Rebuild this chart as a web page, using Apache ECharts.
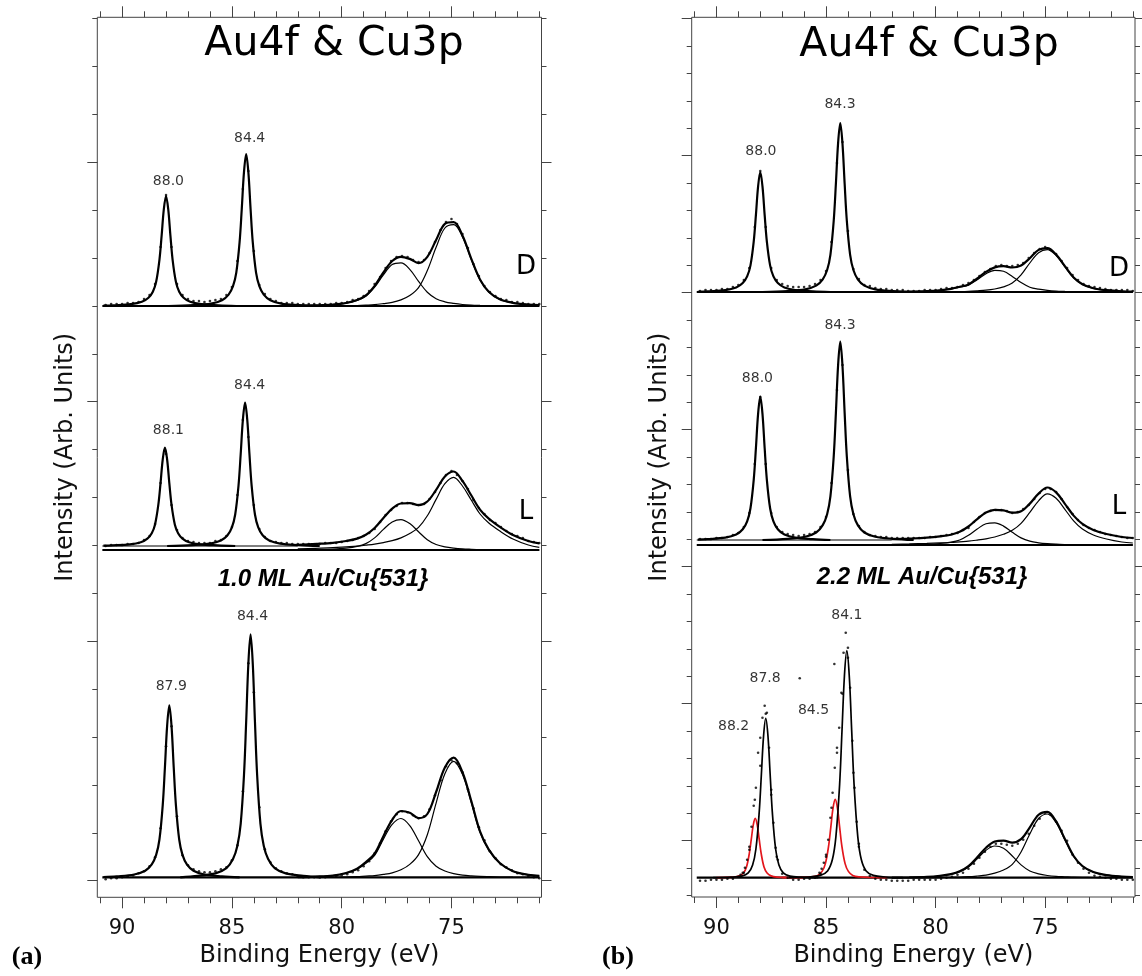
<!DOCTYPE html>
<html><head><meta charset="utf-8">
<script src="https://cdn.jsdelivr.net/npm/echarts@6/dist/echarts.min.js"></script>
<style>html,body{margin:0;padding:0;background:#fff}#c{width:1142px;height:976px}</style>
</head><body><div id="c"></div>
<script>
// ===== DATA (binding energy in eV, intensity in arbitrary units) =====
// Cu 3p fit-component energy grid
const CU_X = [82.0,81.2,80.4,79.8,79.3,78.9,78.5,78.1,77.7,77.3,76.9,76.5,76.1,75.7,75.3,74.9,74.5,74.1,73.7,73.3,72.8,72.2,71.5,71.0];
// measured-point energy grid: 90.75 eV down to 71.0 eV in 0.25 eV steps
const DOT_START = 90.75, DOT_STEP = 0.25;
const X_MINOR = [71,72,73,74,75,76,77,78,79,80,81,82,83,84,85,86,87,88,89,90,91];
const X_MAJOR = [75,80,85,90];
const X_RANGE = [70.9, 91.13];

// spectrum baselines (stacking offsets) and constant background
const OFF_A = [591.3, 347.3, 20];   // D, L, 1.0 ML
const BG_A  = [0, 4, 0];
const OFF_B = [605, 352, 19.3];     // D, L, 2.2 ML
const BG_B  = [0, 5, 0];

// ---- panel (a) top: D ----
const aD_au1 = [[90.85,0.3],[90.4,0.7],[89.6,1.8],[89.1,4.2],[88.8,8.3],[88.6,14.3],[88.45,24.2],[88.3,46.2],[88.2,70.4],[88.1,96.8],[88.0,110],[87.9,96.8],[87.8,70.4],[87.7,46.2],[87.55,24.2],[87.4,14.3],[87.2,8.3],[86.9,4.2],[86.4,1.8],[85.6,0.7],[84.8,0]];
const aD_au2 = [[87.9,0],[86.75,0.9],[85.95,2.4],[85.45,5.8],[85.15,11.4],[84.95,19.8],[84.8,33.4],[84.65,63.8],[84.55,97.3],[84.45,133.8],[84.35,152],[84.25,133.8],[84.15,97.3],[84.05,63.8],[83.9,33.4],[83.75,19.8],[83.55,11.4],[83.25,5.8],[82.75,2.4],[81.95,0.9],[81.0,0]];
const aD_cu1 = [0.2,0.6,1.4,2.8,5.5,9.7,18.8,31.1,41.4,43.1,36.7,24.6,13.8,7.3,4.2,2.6,1.5,0.9,0.6,0.4,0.2,0,0,0];
const aD_cu2 = [0,0,0,0.2,0.5,0.9,1.4,2.4,3.6,6.1,10.4,18.3,35.4,58.7,78,81.3,69.1,46.5,26,13.9,6.6,3.2,1.4,0.8];
const aD_pts = [1,2,2,2,3,3,4,7,11,22,59,111,59,22,11,7,5,5,4,5,6,7,11,19,45,117,135,55,21,12,7,5,3,3,3,2,2,2,2,2,2,2,3,3,4,6,7,10,15,22,29,38,45,49,50,49,46,44,46,53,64,76,84,87,82,72,58,42,30,20,14,10,7,6,4,4,3,2,2,2];

// ---- panel (a) middle: L ----
const aL_au1 = [[90.85,4.3],[90.45,4.6],[89.65,5.6],[89.15,7.7],[88.85,11.4],[88.65,16.8],[88.5,25.6],[88.35,45.3],[88.25,66.9],[88.15,90.5],[88.05,102.3],[87.95,90.5],[87.85,66.9],[87.75,45.3],[87.6,25.6],[87.45,16.8],[87.25,11.4],[86.95,7.7],[86.45,5.6],[85.65,4.6],[84.85,4]];
const aL_au2 = [[87.95,4],[86.8,4.9],[86.0,6.3],[85.5,9.4],[85.2,14.7],[85.0,22.6],[84.85,35.5],[84.7,64.2],[84.6,95.7],[84.5,130.1],[84.4,147.3],[84.3,130.1],[84.2,95.7],[84.1,64.2],[83.95,35.5],[83.8,22.6],[83.6,14.7],[83.3,9.4],[82.8,6.3],[82.0,4.9],[81.0,4]];
const aL_cu1 = [0.1,0.4,0.9,1.9,3.6,6.4,12.1,20.6,28,30.4,26.4,18.3,10.3,5.5,3.2,1.9,1.1,0.7,0.4,0.3,0.1,0,0,0];
const aL_cu2 = [1.1,1.7,2.3,3.1,3.8,4.8,5.9,7.4,9.3,12.1,16.4,22.6,34.2,50.6,66.3,72.6,64,50,36,27,19,11,5,2.7];
const aL_pts = [4,5,5,5,6,6,7,10,14,26,67,96,45,20,12,9,8,7,7,7,9,10,14,23,55,130,113,45,21,13,9,8,7,7,6,6,6,6,6,6,7,7,7,8,9,10,12,14,17,21,28,35,40,44,47,47,46,45,46,51,58,67,75,79,75,69,61,50,42,36,30,27,23,19,16,14,12,9,8,7];

// ---- panel (a) bottom: 1.0 ML ----
const aB_au1 = [[90.85,0.3],[90.25,1.0],[89.45,2.8],[88.95,6.5],[88.65,12.9],[88.45,22.4],[88.3,37.8],[88.15,72.2],[88.05,110.1],[87.95,151.4],[87.85,172],[87.75,151.4],[87.65,110.1],[87.55,72.2],[87.4,37.8],[87.25,22.4],[87.05,12.9],[86.75,6.5],[86.25,2.8],[85.45,1.0],[84.65,0]];
const aB_au2 = [[87.35,0],[86.55,1.5],[85.75,3.9],[85.25,9.2],[84.95,18.2],[84.75,31.6],[84.6,53.5],[84.45,102.1],[84.35,155.5],[84.25,213.8],[84.15,243],[84.05,213.8],[83.95,155.5],[83.85,102.1],[83.7,53.5],[83.55,31.6],[83.35,18.2],[83.05,9.2],[82.55,3.9],[81.75,1.5],[80.95,0]];
const aB_cu1 = [0.2,0.7,1.7,4,8,14,22,38.2,53,58.8,51.7,36.5,20.7,11.1,6.3,3.7,2.2,1.4,0.9,0.6,0.3,0.1,0,0];
const aB_cu2 = [0,0,0,0.3,0.6,1.2,1.7,2.9,4.5,7.5,12.9,22.7,42.6,74.2,103.5,116,103,75,45,27,14,6,2.5,1.5];
const aB_pts = [-2,-1,-1,0,1,2,4,6,11,20,49,131,151,61,22,12,8,6,5,5,6,8,10,17,32,86,214,185,70,28,15,9,6,4,3,1,0,0,0,0,0,1,1,2,3,5,7,11,16,24,34,46,56,63,66,65,62,59,61,68,82,97,111,117,114,105,88,69,50,37,26,19,13,10,7,4,3,1,0,-1];

// ---- panel (b) top: D ----
const bD_au1 = [[90.85,0.2],[90.4,0.7],[89.6,1.9],[89.1,4.6],[88.8,9],[88.6,15.6],[88.45,26.4],[88.3,50.4],[88.2,76.8],[88.1,105.6],[88.0,120],[87.9,105.6],[87.8,76.8],[87.7,50.4],[87.55,26.4],[87.4,15.6],[87.2,9],[86.9,4.6],[86.4,1.9],[85.6,0.7],[84.8,0]];
const bD_au2 = [[87.9,0],[86.75,1],[85.95,2.7],[85.45,6.4],[85.15,12.7],[84.95,22],[84.8,37.2],[84.65,71],[84.55,108.2],[84.45,148.7],[84.35,169],[84.25,148.7],[84.15,108.2],[84.05,71],[83.9,37.2],[83.75,22],[83.55,12.7],[83.25,6.4],[82.75,2.7],[81.95,1],[81.0,0]];
const bD_cu1 = [0.1,0.3,0.8,1.6,3,4.8,6.9,12.3,18.3,21.6,20.7,15.6,9.4,4.8,2.8,1.6,0.9,0.6,0.4,0.2,0.1,0,0,0];
const bD_cu2 = [0,0,0,0.1,0.2,0.4,0.7,1.2,1.8,3,5.1,8.9,17.1,29,39.3,42.3,36.5,25.2,14.1,7.6,3.7,1.8,0.7,0.4];
const bD_pts = [1,2,2,2,3,3,5,7,12,24,65,121,65,24,12,8,6,5,5,5,6,8,12,21,50,129,150,61,23,13,7,6,4,3,3,2,2,2,1,1,1,2,2,2,3,4,4,5,7,9,12,16,20,23,26,27,26,26,27,29,34,39,43,45,42,38,31,24,17,12,8,6,5,4,3,2,2,2,2,1];

// ---- panel (b) middle: L ----
const bL_au1 = [[90.85,5.4],[90.4,5.9],[89.6,7.3],[89.1,10.4],[88.8,15.7],[88.6,23.6],[88.45,36.5],[88.3,65.2],[88.2,96.7],[88.1,131.1],[88.0,148.3],[87.9,131.1],[87.8,96.7],[87.7,65.2],[87.55,36.5],[87.4,23.6],[87.2,15.7],[86.9,10.4],[86.4,7.3],[85.6,5.9],[84.8,5]];
const bL_au2 = [[87.9,5],[86.75,6.2],[85.95,8.2],[85.45,12.5],[85.15,19.9],[84.95,30.8],[84.8,48.6],[84.65,88.3],[84.55,131.9],[84.45,179.5],[84.35,203.3],[84.25,179.5],[84.15,131.9],[84.05,88.3],[83.9,48.6],[83.75,30.8],[83.55,19.9],[83.25,12.5],[82.75,8.2],[81.95,6.2],[81.0,5]];
const bL_cu1 = [0.1,0.3,0.7,1.5,2.8,5,9.7,16,21.3,22.2,18.9,12.7,7.1,3.8,2.2,1.3,0.8,0.5,0.3,0.2,0.1,0,0,0];
const bL_cu2 = [0.7,1.1,1.6,2.1,2.5,3.2,3.8,4.9,6.2,8,10.7,14.7,21.7,32.6,44.2,51.2,46.8,35.7,24.1,15.9,10,6,3,2];
const bL_pts = [6,6,6,7,7,8,10,12,18,32,81,148,81,32,18,13,11,10,9,10,11,13,18,28,62,155,180,75,31,19,13,10,9,8,8,7,7,7,7,7,7,7,8,8,9,10,11,12,15,17,23,28,32,34,35,35,34,32,33,36,40,46,52,56,56,53,46,38,31,25,20,17,15,13,11,10,9,8,7,7];

// ---- panel (b) bottom: 2.2 ML (black = main, red = second Au component) ----
const bB_k1 = [[90.15,0],[89.35,0.5],[88.85,1.6],[88.55,4.8],[88.35,12.7],[88.2,28.7],[88.05,65.3],[87.95,103.5],[87.85,141.8],[87.75,159.3],[87.65,141.8],[87.55,103.5],[87.45,65.3],[87.3,28.7],[87.15,12.7],[86.95,4.8],[86.65,1.6],[86.15,0.5],[85.35,0]];
const bB_r1 = [[90.0,0],[89.68,0.2],[89.23,0.6],[88.95,1.8],[88.77,4.7],[88.63,10.7],[88.5,24.3],[88.41,38.5],[88.32,52.8],[88.23,59.3],[88.14,52.8],[88.05,38.5],[87.96,24.3],[87.83,10.7],[87.69,4.7],[87.51,1.8],[87.23,0.6],[86.78,0.2],[86.0,0]];
const bB_k2 = [[86.7,0],[85.81,0.7],[85.26,2.3],[84.93,6.8],[84.71,18.2],[84.55,40.9],[84.38,93.1],[84.27,147.6],[84.16,202],[84.05,227],[83.94,202],[83.83,147.6],[83.72,93.1],[83.55,40.9],[83.39,18.2],[83.17,6.8],[82.84,2.3],[82.29,0.7],[81.5,0]];
const bB_r2 = [[87.0,0],[86.18,0.2],[85.68,0.8],[85.38,2.3],[85.18,6.3],[85.03,14.1],[84.88,32.1],[84.78,50.9],[84.68,69.7],[84.58,78.3],[84.48,69.7],[84.38,50.9],[84.28,32.1],[84.13,14.1],[83.98,6.3],[83.78,2.3],[83.48,0.8],[82.98,0.2],[82.2,0]];
const bB_cu1 = [0.1,0.3,0.8,1.7,3.2,5.7,10.6,18.8,27.4,31.7,29.4,21.7,12.8,6.7,3.8,2.2,1.3,0.9,0.5,0.3,0.2,0,0,0];
const bB_cu2 = [0,0,0,0.2,0.4,0.7,1,1.7,2.6,4.5,7.7,13.4,25.7,43.7,59.2,63.7,55,37.9,21.2,11.4,5.5,2.6,1.1,0.7];
const bB_pts = [-3,-3,-2,-2,-2,-1,-1,1,5,28,78,112,164,83,21,4,0,-2,-2,-1,-1,0,4,21,70,125,184,220,105,31,8,2,-1,-2,-2,-3,-3,-3,-3,-2,-2,-2,-2,-2,-1,0,1,3,5,9,14,20,26,31,34,34,33,32,34,38,44,52,59,65,63,56,47,37,23,15,9,5,2,1,0,-1,-1,-2,-2,-2];
// extra measured points across the two Au 4f peaks (0.1 eV steps)
const bB_au1Pts = [[88.9,3],[88.8,5],[88.7,10],[88.6,18],[88.5,31],[88.4,51],[88.3,72],[88.2,90],[88.1,125],[88.0,140],[87.9,160],[87.8,172],[87.7,165],[87.6,130],[87.5,88],[87.4,55],[87.3,30],[87.2,18]];
const bB_au2Pts = [[85.3,5],[85.2,9],[85.1,15],[85.0,23],[84.9,38],[84.8,60],[84.7,85],[84.6,110],[84.5,130],[84.4,150],[84.3,185],[84.2,225],[84.1,245],[84.0,230],[83.9,190],[83.8,137],[83.7,90],[83.6,56],[83.5,34]];
const bB_stray = [[86.2,199.4],[84.62,213.7]];

// peak-position labels: [text, eV, intensity]
const LABELS_A = [['88.0',87.89,715.6],['84.4',84.19,759],['88.1',87.89,467.3],['84.4',84.19,511.6],['87.9',87.76,210.6],['84.4',84.06,280.6]];
const LABELS_B = [['88.0',87.97,745.3],['84.3',84.36,793],['88.0',88.13,518.7],['84.3',84.36,572],['84.1',84.05,282],['87.8',87.78,218.7],['84.5',85.57,186.3],['88.2',89.22,170.3]];

// y tick positions (arb. units)
const Y_A = {min:0, max:880, first:16.6, step:47.9, count:19, majors:[16.6,256.1,495.6,735.1]};
const Y_B = {min:0, max:879.7, first:1.5, step:27.4, count:33, majors:[56.3,193.3,330.3,467.3,604.3,741.3,878.3]};

// ===== BUILD =====
const FONT = 'DejaVu Sans';
const BLACK = '#000';
const RED = '#e3161c';
const AXC = '#444';

function ticksOf(y){ const t=[]; for(let k=0;k<y.count;k++) t.push(+(y.first+y.step*k).toFixed(2)); return t; }

function xAxes(g){
  const base = {type:'value', gridIndex:g, min:X_RANGE[0], max:X_RANGE[1], inverse:true,
    axisLine:{show:false,onZero:false}, splitLine:{show:false}};
  return [
    Object.assign({}, base, {position:'bottom',
      axisTick:{show:true,inside:false,length:6,customValues:X_MINOR,lineStyle:{color:AXC,width:1}},
      axisLabel:{show:true,customValues:X_MAJOR,margin:21,fontSize:21,fontFamily:FONT,color:'#111'},
      name:'Binding Energy (eV)', nameLocation:'middle', nameGap:39,
      nameTextStyle:{fontSize:24,fontFamily:FONT,color:'#111'}}),
    Object.assign({}, base, {position:'bottom',
      axisTick:{show:true,inside:false,length:11,customValues:X_MAJOR,lineStyle:{color:AXC,width:1}},
      axisLabel:{show:false}}),
    Object.assign({}, base, {position:'top',
      axisTick:{show:true,inside:false,length:6,customValues:X_MINOR,lineStyle:{color:AXC,width:1}},
      axisLabel:{show:false}}),
    Object.assign({}, base, {position:'top',
      axisTick:{show:true,inside:false,length:11,customValues:X_MAJOR,lineStyle:{color:AXC,width:1}},
      axisLabel:{show:false}})
  ];
}
function yAxes(g, y){
  const base = {type:'value', gridIndex:g, min:y.min, max:y.max,
    axisLine:{show:false,onZero:false}, splitLine:{show:false}, axisLabel:{show:false}};
  const minor = ticksOf(y);
  return [
    Object.assign({}, base, {position:'left',
      axisTick:{show:true,inside:false,length:5,customValues:minor,lineStyle:{color:AXC}},
      name:'Intensity (Arb. Units)', nameLocation:'middle', nameGap:20, nameRotate:90,
      nameTextStyle:{fontSize:24,fontFamily:FONT,color:'#111'}}),
    Object.assign({}, base, {position:'left',
      axisTick:{show:true,inside:false,length:10,customValues:y.majors,lineStyle:{color:AXC}}}),
    Object.assign({}, base, {position:'right',
      axisTick:{show:true,inside:false,length:5,customValues:minor,lineStyle:{color:AXC}}}),
    Object.assign({}, base, {position:'right',
      axisTick:{show:true,inside:false,length:10,customValues:y.majors,lineStyle:{color:AXC}}})
  ];
}

const series = [];
function line(ax, pts, off, color, width, z){
  series.push({type:'line', xAxisIndex:ax, yAxisIndex:ax, data:pts.map(p=>[p[0], p[1]+off]),
    showSymbol:false, symbol:'none', smooth:0.35, lineStyle:{color:color,width:width},
    silent:true, animation:false, z:z});
}
function dots(ax, pairs, off){
  series.push({type:'scatter', xAxisIndex:ax, yAxisIndex:ax, symbol:'circle', symbolSize:2.6,
    data:pairs.map(p=>[p[0], p[1]+off]), itemStyle:{color:BLACK}, silent:true, animation:false, z:5});
}
function addSpectrum(ax, off, bg, au, cu1, cu2, pts, auColors){
  line(ax, [[90.9,0],[71.0,0]], off, BLACK, 2.2, 2);            // fit baseline
  if (bg) line(ax, [[90.9,bg],[82.0,bg]], off, BLACK, 1.2, 3);  // measured background level
  au.forEach((a,i)=> line(ax, a, off, auColors ? auColors[i] : BLACK, auColors ? 1.7 : 2.2, 4));
  line(ax, CU_X.map((x,i)=>[x,cu1[i]]), off, BLACK, 1.2, 3);
  line(ax, CU_X.map((x,i)=>[x,cu2[i]]), off, BLACK, 1.2, 3);
  line(ax, CU_X.map((x,i)=>[x,cu1[i]+cu2[i]+bg]), off, BLACK, 2.2, 4);
  dots(ax, pts.map((v,i)=>[DOT_START - DOT_STEP*i, v]), off);
}
function addLabels(ax, labels){
  series.push({type:'scatter', xAxisIndex:ax, yAxisIndex:ax, symbol:'circle', symbolSize:1,
    itemStyle:{color:'rgba(0,0,0,0)'}, silent:true, animation:false, z:6,
    data:labels.map(l=>({value:[l[1],l[2]], label:{formatter:l[0]}})),
    label:{show:true, position:'inside', fontSize:14, fontFamily:FONT, color:'#000'}});
}

addSpectrum(0, OFF_A[0], BG_A[0], [aD_au1, aD_au2], aD_cu1, aD_cu2, aD_pts);
addSpectrum(0, OFF_A[1], BG_A[1], [aL_au1, aL_au2], aL_cu1, aL_cu2, aL_pts);
addSpectrum(0, OFF_A[2], BG_A[2], [aB_au1, aB_au2], aB_cu1, aB_cu2, aB_pts);
addSpectrum(4, OFF_B[0], BG_B[0], [bD_au1, bD_au2], bD_cu1, bD_cu2, bD_pts);
addSpectrum(4, OFF_B[1], BG_B[1], [bL_au1, bL_au2], bL_cu1, bL_cu2, bL_pts);
addSpectrum(4, OFF_B[2], BG_B[2], [bB_r1, bB_r2, bB_k1, bB_k2], bB_cu1, bB_cu2, bB_pts, [RED, RED, BLACK, BLACK]);
dots(4, bB_au1Pts, OFF_B[2]);
dots(4, bB_au2Pts, OFF_B[2]);
dots(4, bB_stray, OFF_B[2]);
addLabels(0, LABELS_A);
addLabels(4, LABELS_B);

function txt(x, y, s, font){
  return {type:'text', x:x, y:y, silent:true, z:10,
    style:{text:s, font:font, fill:'#000', align:'center', verticalAlign:'middle',
           textAlign:'center', textVerticalAlign:'middle'}};
}

const option = {
  animation:false,
  backgroundColor:'#fff',
  grid:[
    {left:97.3, top:17.3, width:444.2, height:880, show:true, borderColor:AXC, borderWidth:1, backgroundColor:'transparent'},
    {left:691.7, top:17.3, width:443.3, height:879.7, show:true, borderColor:AXC, borderWidth:1, backgroundColor:'transparent'}
  ],
  xAxis: xAxes(0).concat(xAxes(1)),
  yAxis: yAxes(0, Y_A).concat(yAxes(1, Y_B)),
  series: series,
  graphic: [
    txt(334, 44, 'Au4f & Cu3p', '41px "DejaVu Sans"'),
    txt(929, 45, 'Au4f & Cu3p', '41px "DejaVu Sans"'),
    txt(526, 267, 'D', '26px "DejaVu Sans"'),
    txt(526, 512, 'L', '26px "DejaVu Sans"'),
    txt(1119, 269, 'D', '26px "DejaVu Sans"'),
    txt(1119, 507, 'L', '26px "DejaVu Sans"'),
    txt(323, 579, '1.0 ML Au/Cu{531}', 'italic bold 24px "Liberation Sans"'),
    txt(922, 577, '2.2 ML Au/Cu{531}', 'italic bold 24px "Liberation Sans"'),
    txt(27, 957, '(a)', 'bold 26px "Liberation Serif"'),
    txt(618, 957, '(b)', 'bold 26px "Liberation Serif"')
  ]
};
const chart = echarts.init(document.getElementById('c'), null, {renderer:'canvas', width:1142, height:976});
chart.setOption(option);
</script>
</body></html>
